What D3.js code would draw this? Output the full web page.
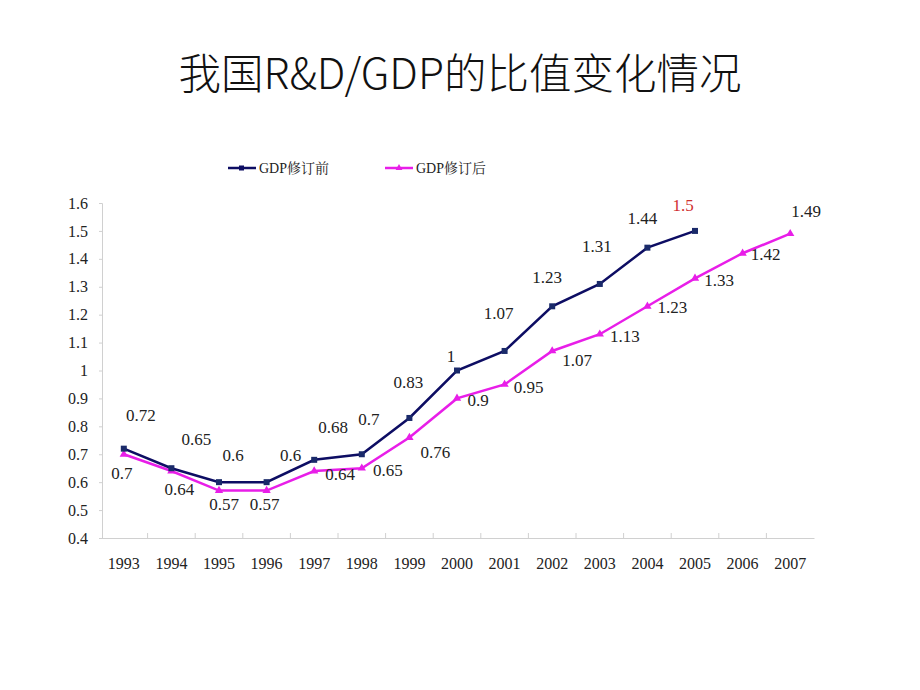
<!DOCTYPE html>
<html>
<head>
<meta charset="utf-8">
<script src="https://cdn.jsdelivr.net/npm/d3@7/dist/d3.min.js"></script>
<style>
html,body{margin:0;padding:0;background:#fff;}
svg{display:block;}
.serif{font-family:"Liberation Serif","DejaVu Serif",serif;}
</style>
</head>
<body>
<svg id="chart" width="920" height="690"></svg>
<script>
const years = ["1993","1994","1995","1996","1997","1998","1999","2000","2001","2002","2003","2004","2005","2006","2007"];
const beforeValues = [0.72,0.65,0.6,0.6,0.68,0.7,0.83,1,1.07,1.23,1.31,1.44,1.5];
const afterValues = [0.7,0.64,0.57,0.57,0.64,0.65,0.76,0.9,0.95,1.07,1.13,1.23,1.33,1.42,1.49];
const yTicks = [0.4,0.5,0.6,0.7,0.8,0.9,1,1.1,1.2,1.3,1.4,1.5,1.6];
const seriesNames = ["GDP修订前","GDP修订后"];
const titleText = "我国R&D/GDP的比值变化情况";

// label layout offsets (pixels relative to point)
const beforeLabelOffsets = [[17,-33],[25,-29],[14,-27],[24,-27],[19,-32],[7,-35],[-1,-35],[-6,-14],[-6,-37],[-5,-29],[-3,-37],[-5,-29],[-12,-25]];
const afterLabelOffsets = [[-2,19],[8,18],[5,14],[-2,14],[26,3],[26,2],[26,15],[21,2],[24,3],[25,10],[25,2],[25,1],[24,2],[23,1],[16,-22]];

const svg = d3.select("#chart");
const x = d3.scaleBand().domain(years).range([100, 814]);
const y = d3.scaleLinear().domain([0.4, 1.6]).range([538, 203]);
const navy = "#0d0d63";
const magenta = "#e81ee8";

// title
svg.append("text").attr("x", 460).attr("y", 89).attr("text-anchor", "middle")
  .style("font-family", "'Noto Sans CJK SC','Noto Sans',sans-serif").style("font-size", "42.5px")
  .style("font-weight", 300)
  .attr("fill", "#111").text(titleText);

// y axis
const yAxis = d3.axisLeft(y).tickValues(yTicks).tickSize(3).tickFormat(d => d3.format("")(d));
const gy = svg.append("g").attr("transform", "translate(102,0)").call(yAxis);
gy.attr("font-family", null).attr("font-size", null);
gy.select(".domain").attr("stroke", "#d0d0d0");
gy.selectAll(".tick line").attr("stroke", "#d0d0d0");
gy.selectAll(".tick text").attr("class", "serif").style("font-size", "16px").attr("fill", "#222").attr("x", -14);

// x axis
const xAxis = d3.axisBottom(x).tickSize(0).tickPadding(20);
const gx = svg.append("g").attr("transform", "translate(0,538)").call(xAxis);
gx.attr("font-family", null).attr("font-size", null);
gx.select(".domain").attr("stroke", "#d0d0d0");
gx.selectAll(".tick text").attr("class", "serif").style("font-size", "16px").attr("fill", "#222");
gx.selectAll(".boundary").data(years.slice(1)).enter().append("line")
  .attr("x1", d => x(d)).attr("x2", d => x(d)).attr("y1", -5).attr("y2", 0)
  .attr("stroke", "#d0d0d0");

const cx = i => x(years[i]) + x.bandwidth() / 2;
const line = d3.line().x((d, i) => cx(i)).y(d => y(d));

// after series
svg.append("path").datum(afterValues).attr("d", line).attr("fill", "none")
  .attr("stroke", magenta).attr("stroke-width", 2.5);
const tri = d3.symbol().type(d3.symbolTriangle).size(30);
svg.selectAll(".tri").data(afterValues).enter().append("path")
  .attr("d", tri).attr("transform", (d, i) => `translate(${cx(i)},${y(d)})`).attr("fill", magenta);

// before series
svg.append("path").datum(beforeValues).attr("d", line).attr("fill", "none")
  .attr("stroke", navy).attr("stroke-width", 2.5);
svg.selectAll(".sq").data(beforeValues).enter().append("rect")
  .attr("x", (d, i) => cx(i) - 3).attr("y", d => y(d) - 3).attr("width", 6).attr("height", 6)
  .attr("fill", "#1a2a6a");

// labels
svg.selectAll(".lb").data(beforeValues).enter().append("text").attr("class", "serif")
  .attr("x", (d, i) => cx(i) + beforeLabelOffsets[i][0]).attr("y", (d, i) => y(d) + beforeLabelOffsets[i][1])
  .attr("text-anchor", "middle").attr("dominant-baseline", "central")
  .style("font-size", "17px")
  .attr("fill", (d, i) => i === beforeValues.length - 1 ? "#d03030" : "#222")
  .text(d => d3.format("")(d));
svg.selectAll(".la").data(afterValues).enter().append("text").attr("class", "serif")
  .attr("x", (d, i) => cx(i) + afterLabelOffsets[i][0]).attr("y", (d, i) => y(d) + afterLabelOffsets[i][1])
  .attr("text-anchor", "middle").attr("dominant-baseline", "central")
  .style("font-size", "17px").attr("fill", "#222")
  .text(d => d3.format("")(d));

// legend
const legend = [{name: seriesNames[0], color: navy, x: 228}, {name: seriesNames[1], color: magenta, x: 385}];
legend.forEach((l, i) => {
  const g = svg.append("g").attr("transform", `translate(${l.x},168)`);
  g.append("line").attr("x1", 0).attr("x2", 28).attr("y1", 0).attr("y2", 0).attr("stroke", l.color).attr("stroke-width", 2.5);
  if (i === 0) g.append("rect").attr("x", 11).attr("y", -2.5).attr("width", 5).attr("height", 5).attr("fill", l.color);
  else g.append("path").attr("d", d3.symbol().type(d3.symbolTriangle).size(20)).attr("transform", "translate(14,0)").attr("fill", l.color);
  g.append("text").attr("class", "serif").attr("x", 31).attr("y", 0).attr("dominant-baseline", "central")
    .style("font-family", "'Liberation Serif','Noto Serif CJK SC','Noto Sans CJK SC',serif")
    .style("font-size", "14px").attr("fill", "#222").text(l.name);
});
</script>
</body>
</html>
